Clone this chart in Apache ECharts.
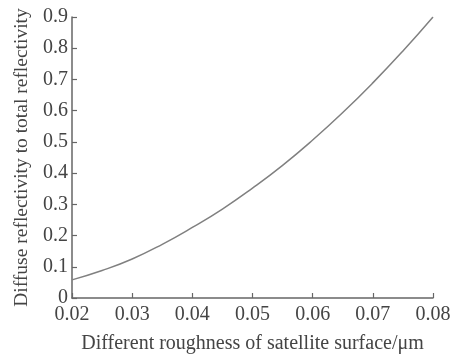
<!DOCTYPE html>
<html>
	<head>
		<meta charset="utf-8" />
		<title></title>
		<style type="text/css">
			html,body{
				margin: 0;
				width: 100%;
				height: 100%;
				background: #fff;
			}
		</style>
	</head>
	<body>
		<div id="main" style="width:454px;height:359px;"></div>
		<script src="https://cdn.jsdelivr.net/npm/echarts@6/dist/echarts.min.js"></script>
		<script>
			// roughness (um) and diffuse/total reflectivity ratio
			var roughness = [0.02, 0.025, 0.03, 0.035, 0.04, 0.045, 0.05, 0.055, 0.06, 0.065, 0.07, 0.075, 0.08];
			var ratio = [0.058, 0.088, 0.125, 0.172, 0.226, 0.285, 0.352, 0.425, 0.506, 0.594, 0.689, 0.791, 0.9];

			var points = [];
			for(var i = 0; i < roughness.length; i++) {
				points.push([roughness[i], ratio[i]]);
			}

			var textColor = '#444';
			var lineColor = '#666';
			var font = '"Liberation Serif", "DejaVu Serif", serif';

			var myChart = echarts.init(document.getElementById('main'));
			var option = {
				animation: false,
				grid: {
					left: 72,
					right: 21,
					top: 17,
					bottom: 57
				},
				xAxis: {
					type: 'value',
					min: 0.02,
					max: 0.08,
					interval: 0.01,
					name: 'Different roughness of satellite surface/μm',
					nameLocation: 'middle',
					nameGap: 36,
					nameTextStyle: {
						color: textColor,
						fontFamily: font,
						fontSize: 20
					},
					axisLine: {
						lineStyle: { color: lineColor, width: 1.5 }
					},
					axisTick: {
						inside: true,
						length: 5,
						lineStyle: { color: lineColor, width: 1.2 }
					},
					axisLabel: {
						color: textColor,
						fontFamily: font,
						fontSize: 20,
						margin: 7,
						formatter: function(v) { return v.toFixed(2); }
					},
					splitLine: { show: false }
				},
				yAxis: {
					type: 'value',
					min: 0,
					max: 0.9,
					interval: 0.1,
					name: 'Diffuse reflectivity to total reflectivity',
					nameLocation: 'middle',
					nameGap: 37,
					nameTextStyle: {
						color: textColor,
						fontFamily: font,
						fontSize: 19.5
					},
					axisLine: {
						show: true,
						lineStyle: { color: lineColor, width: 1.5 }
					},
					axisTick: {
						show: true,
						inside: true,
						length: 5,
						lineStyle: { color: lineColor, width: 1.2 }
					},
					axisLabel: {
						color: textColor,
						fontFamily: font,
						fontSize: 20,
						margin: 4,
						formatter: function(v) { return v === 0 ? '0' : v.toFixed(1); }
					},
					splitLine: { show: false }
				},
				series: [{
					type: 'line',
					data: points,
					smooth: true,
					showSymbol: false,
					lineStyle: {
						color: '#808080',
						width: 1.5
					}
				}]
			};
			myChart.setOption(option);
		</script>
	</body>
</html>
